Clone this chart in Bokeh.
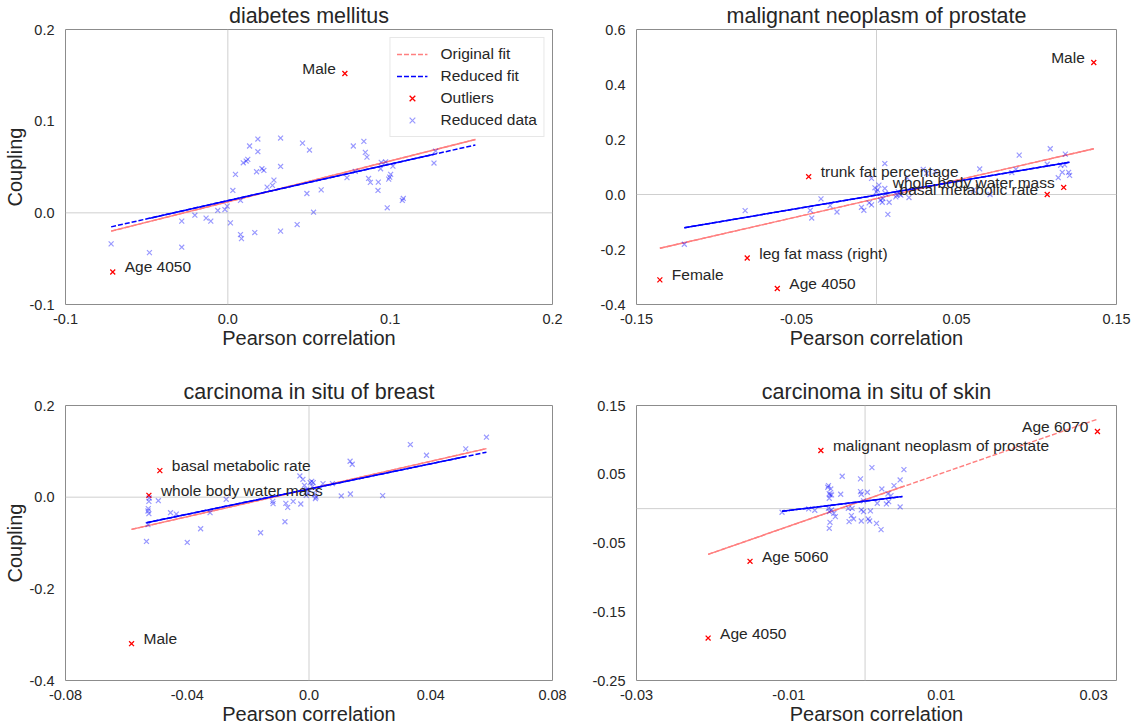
from bokeh.plotting import figure
from bokeh.layouts import column, row
from bokeh.models import Span, FixedTicker, Legend, LegendItem, CustomJSTickFormatter
from bokeh.embed import file_html
from bokeh.resources import INLINE
from bokeh.core.properties import value

FONT = "Liberation Sans"
TXT = "#262626"

# ---------------- data ----------------
titles = ["diabetes mellitus", "malignant neoplasm of prostate",
          "carcinoma in situ of breast", "carcinoma in situ of skin"]

x_ranges = [(-0.1, 0.2), (-0.15, 0.15), (-0.08, 0.08), (-0.03, 0.033)]
y_ranges = [(-0.1, 0.2), (-0.4, 0.6), (-0.4, 0.2), (-0.25, 0.15)]

x_ticks = [[-0.1, 0.0, 0.1, 0.2], [-0.15, -0.05, 0.05, 0.15],
           [-0.08, -0.04, 0.0, 0.04, 0.08], [-0.03, -0.01, 0.01, 0.03]]
x_tick_labels = [["-0.1", "0.0", "0.1", "0.2"], ["-0.15", "-0.05", "0.05", "0.15"],
                 ["-0.08", "-0.04", "0.0", "0.04", "0.08"], ["-0.03", "-0.01", "0.01", "0.03"]]
y_ticks = [[-0.1, 0.0, 0.1, 0.2], [-0.4, -0.2, 0.0, 0.2, 0.4, 0.6],
           [-0.4, -0.2, 0.0, 0.2], [-0.25, -0.15, -0.05, 0.05, 0.15]]
y_tick_labels = [["-0.1", "0.0", "0.1", "0.2"], ["-0.4", "-0.2", "0.0", "0.2", "0.4", "0.6"],
                 ["-0.4", "-0.2", "0.0", "0.2"], ["-0.25", "-0.15", "-0.05", "0.05", "0.15"]]

# reduced data (blue crosses)
red_x_1 = [-0.0719, -0.0483, -0.0284, -0.0284, -0.0203, -0.0134, -0.0105, -0.0062, -0.0018, -0.0004,
           0.0016, 0.0031, 0.0047, 0.0078, 0.0078, 0.0084, 0.0095, 0.0113, 0.0123, 0.0134,
           0.0166, 0.0177, 0.0185, 0.0185, 0.0210, 0.0222, 0.0242, 0.0275, 0.0284, 0.0325,
           0.0325, 0.0325, 0.0427, 0.0460, 0.0487, 0.0503, 0.0528, 0.0575, 0.0734, 0.0773,
           0.0785, 0.0838, 0.0847, 0.0857, 0.0867, 0.0878, 0.0925, 0.0927, 0.0941, 0.0945,
           0.0972, 0.0982, 0.0991, 0.0997, 0.1003, 0.1017, 0.1075, 0.1081, 0.1270, 0.1280,
           0.1286, 0.1525]
red_y_1 = [-0.0339, -0.0434, -0.0375, -0.0091, -0.0026, -0.0058, -0.0091, 0.0026, 0.0036, 0.0073,
           -0.0109, 0.0244, 0.0419, 0.0135, -0.0237, -0.0281, 0.0546, 0.0565, 0.0583, 0.0729,
           -0.0215, 0.0448, 0.0805, 0.0667, 0.0481, 0.0463, 0.0281, 0.0299, 0.0357, 0.0816,
           0.0506, -0.0200, -0.0128, 0.0761, 0.0211, 0.0685, 0.0007, 0.0251, 0.0383, 0.0729,
           0.0452, 0.0780, 0.0659, 0.0608, 0.0375, 0.0332, 0.0244, 0.0335, 0.0481, 0.0550,
           0.0557, 0.0055, 0.0368, 0.0390, 0.0419, 0.0510, 0.0135, 0.0157, 0.0543, 0.0674,
           0.1020, 0.0874]

red_x_2 = [-0.1201, -0.0821, -0.0414, -0.0405, -0.0347, -0.0290, -0.0247, -0.0094, -0.0079, -0.0046,
           -0.0031, -0.0031, -0.0010, 0.0000, 0.0006, 0.0015, 0.0025, 0.0036, 0.0040, 0.0052,
           0.0052, 0.0056, 0.0071, 0.0079, 0.0121, 0.0127, 0.0136, 0.0146, 0.0152, 0.0190,
           0.0203, 0.0292, 0.0313, 0.0366, 0.0606, 0.0645, 0.0710, 0.0846, 0.0871, 0.0892,
           0.1067, 0.1086, 0.1136, 0.1151, 0.1161, 0.1176, 0.1180, 0.1201, 0.1207]
red_y_2 = [-0.1809, -0.0587, -0.0575, -0.0856, -0.0159, -0.0403, -0.0636, -0.0465, -0.0575, -0.0306,
           -0.0379, 0.0587, 0.0244, 0.0098, 0.0171, 0.0342, -0.0208, -0.0281, -0.0147, 0.1125,
           0.0220, 0.0037, -0.0721, -0.0281, -0.0086, -0.0024, 0.0098, 0.0012, -0.0024, 0.0611,
           -0.0110, 0.0917, 0.0770, 0.0831, 0.0159, 0.0929, 0.0000, 0.0795, 0.0917, 0.1430,
           0.1100, 0.1663, 0.0611, 0.1064, 0.0807, 0.1076, 0.1467, 0.0807, 0.0697]

red_x_3 = [-0.0534, -0.0528, -0.0529, -0.0526, -0.0526, -0.0525, -0.0529, -0.0495, -0.0455, -0.0436,
           -0.0400, -0.0356, -0.0325, -0.0272, -0.0159, -0.0119, -0.0118, -0.0079, -0.0076, -0.0070,
           -0.0052, -0.0030, -0.0027, -0.0020, -0.0015, -0.0009, -0.0008, -0.0003, 0.0004, 0.0009,
           0.0011, 0.0014, 0.0018, 0.0021, 0.0023, 0.0025, 0.0046, 0.0077, 0.0106, 0.0135,
           0.0142, 0.0136, 0.0242, 0.0333, 0.0386, 0.0515, 0.0583]
red_y_3 = [-0.0966, -0.0251, -0.0302, -0.0361, -0.0091, -0.0018, -0.0601, -0.0077, -0.0339, -0.0368,
           -0.0988, -0.0689, -0.0339, -0.0047, -0.0776, -0.0091, -0.0142, -0.0536, -0.0135, -0.0222,
           -0.0091, 0.0463, -0.0149, 0.0390, 0.0259, 0.0040, 0.0171, 0.0091, 0.0317, 0.0346,
           0.0230, 0.0317, 0.0055, -0.0033, 0.0004, 0.0157, 0.0295, 0.0295, 0.0026, 0.0784,
           0.0718, 0.0069, 0.0033, 0.1148, 0.0915, 0.1053, 0.1308]

red_x_4 = [-0.0109, -0.0074, -0.0066, -0.0049, -0.0048, -0.0047, -0.0047, -0.0046, -0.0045, -0.0048,
           -0.0047, -0.0047, -0.0046, -0.0044, -0.0044, -0.0041, -0.0039, -0.0032, -0.0030, -0.0022,
           -0.0021, -0.0018, -0.0017, -0.0015, -0.0006, -0.0006, -0.0005, -0.0005, -0.0005, -0.0002,
           -0.0002, 0.0003, 0.0004, 0.0006, 0.0007, 0.0009, 0.0015, 0.0016, 0.0022, 0.0021,
           0.0028, 0.0030, 0.0031, 0.0034, 0.0038, 0.0046, 0.0046, 0.0051]
red_y_4 = [-0.0053, -0.0005, -0.0024, 0.0311, 0.0335, 0.0218, 0.0150, 0.0199, 0.0286, 0.0005,
           -0.0044, -0.0286, -0.0199, -0.0019, 0.0199, -0.0068, -0.0117, 0.0209, 0.0471, 0.0005,
           -0.0189, -0.0102, 0.0005, -0.0150, 0.0432, 0.0248, 0.0209, -0.0180, -0.0019, -0.0044,
           0.0112, 0.0238, -0.0150, -0.0180, -0.0034, 0.0597, -0.0214, 0.0078, 0.0286, -0.0306,
           0.0068, 0.0214, 0.0102, 0.0189, 0.0335, 0.0417, 0.0024, 0.0568]

reduced_x = [red_x_1, red_x_2, red_x_3, red_x_4]
reduced_y = [red_y_1, red_y_2, red_y_3, red_y_4]

# outliers (red crosses) with labels
out_x = [[0.0721, -0.0709],
         [0.1358, -0.0424, 0.1170, 0.1067, -0.0808, -0.1354, -0.0620],
         [-0.0490, -0.0526, -0.0583],
         [0.0305, -0.0058, -0.0151, -0.0206]]
out_y = [[0.152, -0.0645],
         [0.480, 0.0648, 0.0257, 0.0000, -0.231, -0.3105, -0.342],
         [0.0579, 0.0040, -0.3196],
         [0.1121, 0.0845, -0.0767, -0.1883]]
out_labels = [["Male", "Age 4050"],
              ["Male", "trunk fat percentage", "whole body water mass", "basal metabolic rate",
               "leg fat mass (right)", "Female", "Age 4050"],
              ["basal metabolic rate", "whole body water mass", "Male"],
              ["Age 6070", "malignant neoplasm of prostate", "Age 5060", "Age 4050"]]

# fits: full extent (dashed) and solid part
orig_fit_x = [[-0.0719, 0.1525], [-0.1354, 0.1358], [-0.0583, 0.0583], [-0.0206, 0.0305]]
orig_fit_y = [[-0.0200, 0.0800], [-0.1956, 0.1663], [-0.0703, 0.1060], [-0.0665, 0.1301]]
orig_solid_x = [[-0.0719, 0.1525], [-0.1354, 0.1358], [-0.0583, 0.0583], [-0.0206, 0.0052]]
orig_solid_y = [[-0.0200, 0.0800], [-0.1956, 0.1663], [-0.0703, 0.1060], [-0.0665, 0.0330]]
redu_fit_x = [[-0.0719, 0.1525], [-0.1201, 0.1207], [-0.0534, 0.0583], [-0.0109, 0.0049]]
redu_fit_y = [[-0.0153, 0.0740], [-0.1210, 0.1174], [-0.0557, 0.0980], [-0.0039, 0.0175]]
redu_solid_x = [[-0.0480, 0.1270], [-0.1201, 0.1207], [-0.0534, 0.0515], [-0.0109, 0.0049]]
redu_solid_y = [[-0.0058, 0.0639], [-0.1210, 0.1174], [-0.0557, 0.0886], [-0.0039, 0.0175]]

x_label = "Pearson correlation"
y_label = "Coupling"
legend_labels = ["Original fit", "Reduced fit", "Outliers", "Reduced data"]

# ---------------- layout ----------------
FRAME_W = [487, 480, 487, 480]
FRAME_H = 275
BORDER_L = [57, 64, 57, 64]
BORDER_R = [20, 16, 20, 16]
BORDER_T = [23, 23, 26, 26]
BORDER_B = [72, 72, 42, 42]

ORIG_COLOR = "#ff7f7f"
FIT_BLUE = "#0000ff"


def fmt(tk, lb):
    return CustomJSTickFormatter(args=dict(tk=tk, lb=lb), code="""
        for (let i = 0; i < tk.length; i++) {
            if (Math.abs(tk[i] - tick) < 1e-9) { return lb[i]; }
        }
        return '';
    """)


def make_panel(i):
    p = figure(frame_width=FRAME_W[i], frame_height=FRAME_H,
               x_range=x_ranges[i], y_range=y_ranges[i],
               output_backend="svg", toolbar_location=None,
               min_border_left=BORDER_L[i], min_border_right=BORDER_R[i],
               min_border_top=BORDER_T[i], min_border_bottom=BORDER_B[i],
               title=titles[i])
    p.background_fill_color = "white"
    p.border_fill_color = "white"
    p.outline_line_color = "#8c8c8c"
    p.outline_line_width = 1
    p.grid.visible = False

    p.title.text_font = FONT
    p.title.text_font_size = "21.5px"
    p.title.text_font_style = "normal"
    p.title.text_color = TXT
    p.title.align = "center"
    p.title.standoff = 3

    for ax in (p.xaxis[0], p.yaxis[0]):
        ax.axis_line_color = None
        ax.major_tick_line_color = None
        ax.minor_tick_line_color = None
        ax.major_label_text_font = FONT
        ax.major_label_text_font_size = "14.5px"
        ax.major_label_text_color = TXT
        ax.axis_label_text_font = FONT
        ax.axis_label_text_font_size = "20px"
        ax.axis_label_text_font_style = "normal"
        ax.axis_label_text_color = TXT
    p.xaxis.ticker = FixedTicker(ticks=x_ticks[i])
    p.yaxis.ticker = FixedTicker(ticks=y_ticks[i])
    p.xaxis.formatter = fmt(x_ticks[i], x_tick_labels[i])
    p.yaxis.formatter = fmt(y_ticks[i], y_tick_labels[i])
    p.xaxis.major_label_standoff = 3
    p.xaxis.axis_label_standoff = 0
    p.yaxis.major_label_standoff = 5
    p.yaxis.axis_label_standoff = 1
    p.xaxis.axis_label = x_label
    if i in (0, 2):
        p.yaxis.axis_label = y_label

    p.add_layout(Span(location=0, dimension="width", line_color="#cfcfcf", line_width=1, level="underlay"))
    p.add_layout(Span(location=0, dimension="height", line_color="#cfcfcf", line_width=1, level="underlay"))

    r_od = p.line(orig_fit_x[i], orig_fit_y[i], line_color=ORIG_COLOR, line_width=1.4, line_dash="5 2")
    p.line(orig_solid_x[i], orig_solid_y[i], line_color=ORIG_COLOR, line_width=1.4)
    r_rd = p.line(redu_fit_x[i], redu_fit_y[i], line_color=FIT_BLUE, line_width=1.5, line_dash="5 2")
    p.line(redu_solid_x[i], redu_solid_y[i], line_color=FIT_BLUE, line_width=1.5)

    r_out = p.scatter(out_x[i], out_y[i], marker="x", size=7, line_color="red", line_width=1.3)
    r_red = p.scatter(reduced_x[i], reduced_y[i], marker="x", size=7, line_color="blue",
                      line_alpha=0.4, line_width=1.2)

    # annotations: points on the right side get labels on their left
    lx = [x for x in out_x[i] if x > 0]
    ly = [y for x, y in zip(out_x[i], out_y[i]) if x > 0]
    lt = [t for x, t in zip(out_x[i], out_labels[i]) if x > 0]
    rx = [x for x in out_x[i] if x <= 0]
    ry = [y for x, y in zip(out_x[i], out_y[i]) if x <= 0]
    rt = [t for x, t in zip(out_x[i], out_labels[i]) if x <= 0]
    common = dict(text_font=value(FONT), text_font_size="15.5px", text_color=TXT,
                  text_baseline="middle", y_offset=-5)
    if lx:
        p.text(x=lx, y=ly, text=lt, text_align="right", x_offset=-9, **common)
    if rx:
        p.text(x=rx, y=ry, text=rt, text_align="left", x_offset=12, **common)

    if i == 0:
        legend = Legend(items=[LegendItem(label=legend_labels[0], renderers=[r_od]),
                               LegendItem(label=legend_labels[1], renderers=[r_rd]),
                               LegendItem(label=legend_labels[2], renderers=[r_out]),
                               LegendItem(label=legend_labels[3], renderers=[r_red])],
                        location="top_right")
        legend.label_text_font = FONT
        legend.label_text_font_size = "15.5px"
        legend.label_text_color = TXT
        legend.glyph_width = 31
        legend.glyph_height = 20
        legend.label_height = 20
        legend.spacing = 2
        legend.padding = 6
        legend.margin = 8
        legend.label_standoff = 13
        legend.border_line_color = "#d0d0d0"
        legend.border_line_width = 1
        legend.background_fill_color = "white"
        legend.background_fill_alpha = 1.0
        p.add_layout(legend)
    return p


panels = [make_panel(i) for i in range(4)]
layout = column(row(panels[0], panels[1]), row(panels[2], panels[3]))

open("out.html", "w").write(file_html(layout, INLINE))
